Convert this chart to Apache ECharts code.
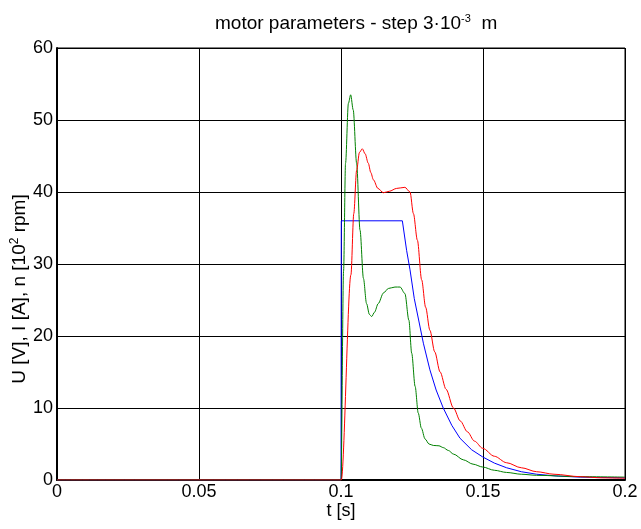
<!DOCTYPE html>
<html>
<head>
<meta charset="utf-8">
<script src="https://cdn.jsdelivr.net/npm/echarts@6/dist/echarts.min.js"></script>
<style>
  html, body { margin: 0; padding: 0; background: #fff; }
  #chart { width: 641px; height: 529px; }
</style>
</head>
<body>
<div id="chart"></div>
<script>
// t [s], value pairs
let voltage_U = [
  [0, 0], [0.1, 0], [0.1001, 36], [0.1216, 36], [0.1231, 31.9], [0.1243, 29.2],
  [0.1258, 25.2], [0.1272, 22.5], [0.1290, 19], [0.1313, 15.3], [0.1335, 12.5],
  [0.1360, 10], [0.1390, 7.6], [0.1419, 5.8], [0.1460, 4.2], [0.1499, 3.2],
  [0.1540, 2.35], [0.1583, 1.7], [0.1635, 1.15], [0.1689, 0.8], [0.1760, 0.55],
  [0.1842, 0.4], [0.2, 0.3]
];
let current_I = [
  [0, 0], [0.1, 0], [0.1009, 29], [0.1016, 44], [0.1026, 52.3], [0.1034, 53.5],
  [0.1043, 51.4], [0.1055, 44], [0.1067, 34.7], [0.1079, 28], [0.1090, 24.5],
  [0.1100, 23], [0.1108, 22.7], [0.1118, 23.3], [0.1131, 24.5], [0.1150, 26],
  [0.1167, 26.6], [0.1190, 26.8], [0.1208, 26.8], [0.1225, 25.9], [0.1239, 22.2],
  [0.1249, 17.6], [0.1261, 13], [0.1272, 9.3], [0.1283, 7.2], [0.1296, 5.7],
  [0.1310, 5.0], [0.1325, 4.8], [0.1345, 4.75], [0.1360, 4.5], [0.1378, 4.1],
  [0.1396, 3.6], [0.1431, 2.8], [0.1465, 2.2], [0.1499, 1.8], [0.1540, 1.35],
  [0.1583, 1.05], [0.1635, 0.8], [0.1689, 0.65], [0.1842, 0.46], [0.2, 0.4]
];
let speed_n = [
  [0, 0], [0.1001, 0], [0.1035, 28.5], [0.1045, 37], [0.1055, 43], [0.1065, 45.5],
  [0.1075, 46], [0.1085, 45.3], [0.1096, 44], [0.1105, 42.7], [0.1114, 41.7],
  [0.1130, 40.5], [0.1149, 39.9], [0.1170, 40.1], [0.1196, 40.5], [0.1225, 40.65],
  [0.1243, 40], [0.1255, 37], [0.1269, 33.3], [0.1284, 27.8], [0.1298, 24],
  [0.1313, 20.8], [0.1330, 17.8], [0.1349, 15.0], [0.1370, 12.6], [0.1396, 10],
  [0.1420, 8.2], [0.1445, 6.7], [0.1470, 5.4], [0.1499, 4.4], [0.1540, 3.3],
  [0.1583, 2.4], [0.1635, 1.7], [0.1689, 1.15], [0.1750, 0.8], [0.1842, 0.46],
  [0.1920, 0.3], [0.2, 0.25]
];
let xTicks = [0, 0.05, 0.1, 0.15, 0.2];
let yTicks = [0, 10, 20, 30, 40, 50, 60];

let chart = echarts.init(document.getElementById('chart'), null, { renderer: 'canvas' });

let font = 'Liberation Sans, Arial, sans-serif';

let option = {
  animation: false,
  backgroundColor: '#fff',
  title: {
    text: '{a|motor parameters - step 3·10}{s|-3}{a|  m}',
    left: 210,
    top: 8,
    textStyle: {
      rich: {
        a: { fontFamily: font, fontSize: 19, fontWeight: 'normal', color: '#000', lineHeight: 22 },
        s: { fontFamily: font, fontSize: 11, fontWeight: 'normal', color: '#000', verticalAlign: 'top', lineHeight: 22 },
      },
    },
  },
  grid: {
    left: 57,
    right: 16,
    top: 48,
    bottom: 49,
    outerBoundsMode: 'none',
    containLabel: false,
    show: true,
    borderColor: '#000',
    borderWidth: 1,
  },
  xAxis: {
    type: 'value',
    min: xTicks[0],
    max: xTicks[xTicks.length - 1],
    interval: 0.05,
    name: 't [s]',
    nameLocation: 'middle',
    nameGap: 22,
    nameMoveOverlap: false,
    nameTextStyle: { fontFamily: font, fontSize: 18, color: '#000' },
    axisLine: { lineStyle: { color: '#000', width: 2 } },
    axisTick: { show: false },
    axisLabel: {
      fontFamily: font, fontSize: 18, color: '#000', margin: 3,
      formatter: function (v) { return xTicks.indexOf(+v.toFixed(2)) >= 0 ? String(+v.toFixed(2)) : ''; },
    },
    splitLine: { show: true, lineStyle: { color: '#000', width: 1 } },
  },
  yAxis: {
    type: 'value',
    min: yTicks[0],
    max: yTicks[yTicks.length - 1],
    interval: 10,
    name: '{a|U [V], I [A], n [10}{s|2}{a| rpm]}{p|}',
    nameLocation: 'middle',
    nameGap: 26,
    nameMoveOverlap: false,
    nameTextStyle: {
      rich: {
        a: { fontFamily: font, fontSize: 19, color: '#000', lineHeight: 22 },
        s: { fontFamily: font, fontSize: 12, color: '#000', verticalAlign: 'top', lineHeight: 22 },
        p: { width: 50, lineHeight: 22 },
      },
    },
    axisLine: { lineStyle: { color: '#000', width: 2 } },
    axisTick: { show: false },
    axisLabel: { fontFamily: font, fontSize: 18, color: '#000', margin: 4 },
    splitLine: { show: true, lineStyle: { color: '#000', width: 1 } },
  },
  series: [
    {
      name: 'U',
      type: 'line',
      data: voltage_U,
      showSymbol: false,
      lineStyle: { color: '#0000ff', width: 1 },
    },
    {
      name: 'I',
      type: 'line',
      data: current_I,
      showSymbol: false,
      smooth: 0.3,
      smoothMonotone: 'x',
      lineStyle: { color: '#008000', width: 1 },
    },
    {
      name: 'n',
      type: 'line',
      data: speed_n,
      showSymbol: false,
      smooth: 0.3,
      smoothMonotone: 'x',
      lineStyle: { color: '#ff0000', width: 1 },
    },
  ],
};

chart.setOption(option);

window.addEventListener('resize', chart.resize);
</script>
</body>
</html>
